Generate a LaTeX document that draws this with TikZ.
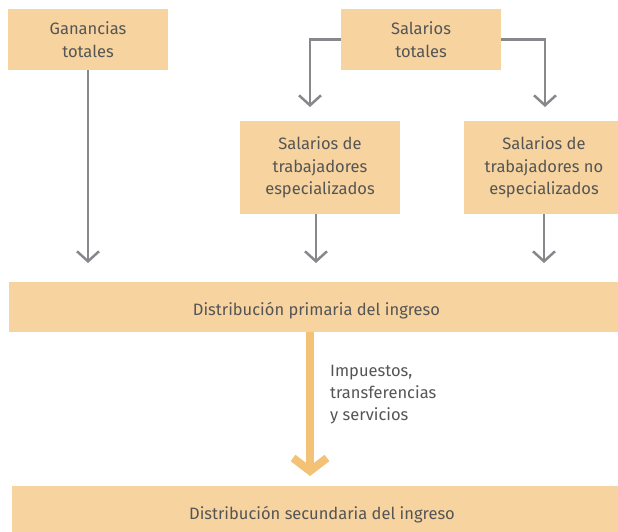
\documentclass[tikz,border=0pt]{standalone}
\usepackage{fontspec}
\setmainfont{Fira Sans}
\usetikzlibrary{arrows.meta,positioning}
\definecolor{boxfill}{RGB}{246,211,159}
\definecolor{flowgray}{RGB}{136,136,140}
\definecolor{floworange}{RGB}{243,194,118}
\definecolor{textgray}{RGB}{85,85,85}

\begin{document}
\begin{tikzpicture}[x=1pt,y=-1pt,font=\fontsize{16.5}{22.5}\selectfont,text=textgray]
\begin{scope}
\tikzstyle{box}=[fill=boxfill,rectangle,inner sep=0pt,align=center,minimum width=160pt,minimum height=61pt]
\tikzstyle{band}=[fill=boxfill,rectangle,inner sep=0pt,align=center,minimum width=620pt,minimum height=52pt,text depth=2.5pt]
\tikzstyle{flow}=[draw=flowgray,line width=2.5pt,-{Straight Barb[length=10pt,width=22pt]}]
\tikzstyle{bigflow}=[draw=floworange,line width=8pt,line cap=butt,-{Straight Barb[length=13pt,width=34pt,line join=miter]}]
\clip (0,0) rectangle (618,531);
\node[box] (b1) at (88,39.5) {Ganancias\\totales};
\node[box] (b2) at (421,39.5) {Salarios\\totales};
\node[box,minimum height=93pt] (b3) at (320,167.5) {Salarios de\\trabajadores\\especializados};
\node[box,minimum height=93pt] (b4) at (544,167.5) {Salarios de\\trabajadores no\\especializados};
\node[band,minimum width=615pt,minimum height=50pt,text height=20pt] (b5) at (316.5,307) {Distribución primaria del ingreso};
\node[band,minimum height=54pt,text height=16pt] (b6) at (322,513) {Distribución secundaria del ingreso};
\node[inner sep=0pt,anchor=west,align=left,font=\fontsize{16.5}{22}\selectfont] (lbl) at (330,395) {Impuestos,\\transferencias\\y servicios};
% free ends of the connectors
\coordinate (e1) at (88,263);
\coordinate (e2) at (310,107);
\coordinate (e3) at (545,107);
\coordinate (e4) at (316,263);
\coordinate (e5) at (544,263);
\coordinate (e6) at (310,476);
\draw[flow] (b1.south) -- (e1);
\draw[flow] (b2.west) -| (e2);
\draw[flow] (b2.east) -| (e3);
\draw[flow] (b3.south -| e4) -- (e4);
\draw[flow] (b4.south -| e5) -- (e5);
\draw[bigflow] (b5.south -| e6) -- (e6);
\end{scope}
\end{tikzpicture}
\end{document}
